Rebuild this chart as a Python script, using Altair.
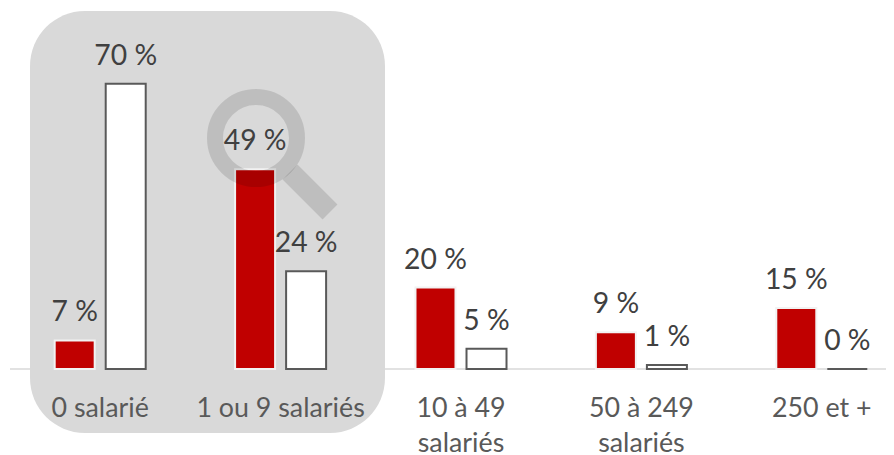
import altair as alt
import pandas as pd

categories = ["0 salarié", "1 ou 9 salariés", "10 à 49\nsalariés", "50 à 249\nsalariés", "250 et +"]
serie_a = [7, 49, 20, 9, 15]
serie_b = [70, 24, 5, 1, 0]
series = ["A", "B"]

rows = []
for c, a, b in zip(categories, serie_a, serie_b):
    rows.append({"cat": c, "serie": "A", "val": a, "label": f"{a} %"})
    rows.append({"cat": c, "serie": "B", "val": b, "label": f"{b} %"})
df = pd.DataFrame(rows)
cats = pd.DataFrame({"cat": categories})

FONT = "Lato"
xscale = alt.Scale(domain=categories, range=[2, 904], paddingInner=0, paddingOuter=0)
yscale = alt.Scale(domain=[0, 88.6], range=[361, 0], nice=False)
x_enc = alt.X("cat:N", scale=xscale, sort=categories, axis=None)
y_enc = alt.Y("val:Q", scale=yscale, axis=None)
xo = alt.XOffset("serie:N", sort=series,
                 scale=alt.Scale(domain=series, paddingInner=0.216, paddingOuter=0.876))
one = pd.DataFrame({"a": [0]})

panel = alt.Chart(one).mark_rect(color="#d9d9d9", cornerRadius=55).encode(
    x=alt.value(22), x2=alt.value(377), y=alt.value(3), y2=alt.value(425))

axis_line = alt.Chart(one).mark_rule(color="#d9d9d9", strokeWidth=1.5).encode(
    x=alt.value(2), x2=alt.value(878), y=alt.value(361))

bars = alt.Chart(df).mark_bar(strokeWidth=2).encode(
    x=x_enc, xOffset=xo, y=y_enc,
    fill=alt.Fill("serie:N", scale=alt.Scale(domain=series, range=["#c00000", "#ffffff"]), legend=None),
    stroke=alt.Stroke("serie:N", scale=alt.Scale(domain=series, range=["#f2f2f2", "#595959"]), legend=None),
)

ring = alt.Chart(one).mark_point(
    shape="circle", size=6724, filled=False, stroke="#000000", strokeWidth=16, strokeOpacity=0.12, opacity=1
).encode(x=alt.value(248), y=alt.value(130))
handle = alt.Chart(one).mark_rule(
    color="#000000", strokeWidth=21, opacity=0.12, strokeCap="butt"
).encode(x=alt.value(282), x2=alt.value(322), y=alt.value(164), y2=alt.value(204))

labels = alt.Chart(df).mark_text(font=FONT, fontSize=28.3, color="#404040", dy=-27, baseline="middle").encode(
    x=x_enc, xOffset=xo, y=y_enc, text="label:N")

cat_labels = alt.Chart(cats).mark_text(
    font=FONT, fontSize=26.8, color="#595959", lineBreak="\n", lineHeight=35, align="center"
).encode(x=x_enc, y=alt.value(401), text="cat:N")

chart = alt.layer(axis_line, panel, bars, ring, handle, labels, cat_labels).properties(
    width=878, height=447, padding=0, background="#ffffff",
    autosize=alt.AutoSizeParams(type="none")
).configure_view(stroke=None)

chart.save("out.html", embed_options={"renderer": "svg", "actions": False})
